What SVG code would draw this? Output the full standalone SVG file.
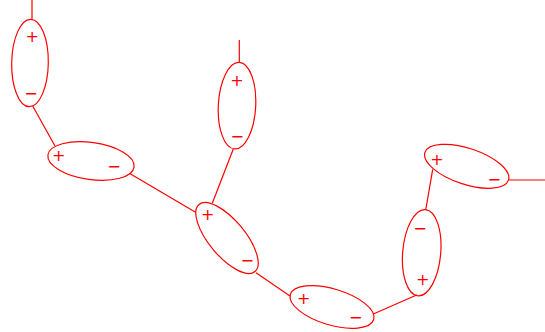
<svg xmlns="http://www.w3.org/2000/svg" width="545" height="332" viewBox="0 0 545 332">
<style>
.e{fill:none;stroke:#ff0000;stroke-width:1.2}
.c line{stroke:#ff0000;stroke-width:1.2}
.s{font-family:"DejaVu Sans",sans-serif;font-size:16px;fill:#ff0000;text-anchor:middle;dominant-baseline:central}
</style>
<rect width="545" height="332" fill="#ffffff"/>
<g id="connectors" class="c">
<line x1="32" y1="0" x2="32" y2="19.5"/>
<line x1="32.7" y1="106" x2="55" y2="146"/>
<line x1="129.3" y1="173.3" x2="196" y2="212.5"/>
<line x1="239.3" y1="40" x2="239.3" y2="62.3"/>
<line x1="233.3" y1="149" x2="212.3" y2="203.3"/>
<line x1="256" y1="272.7" x2="290" y2="296"/>
<line x1="373.3" y1="314" x2="416.7" y2="295"/>
<line x1="425.7" y1="210" x2="432.7" y2="169.3"/>
<line x1="509" y1="180" x2="545" y2="180"/>
</g>
<g id="d1">
<ellipse class="e" cx="30" cy="63" rx="18.3" ry="43.7" transform="rotate(1 30 63)"/>
<text class="s" x="32.3" y="36.7">+</text>
<text class="s" x="31" y="93.7">−</text>
</g>
<g id="d2">
<ellipse class="e" cx="91" cy="161" rx="43.5" ry="18.5" transform="rotate(8 91 161)"/>
<text class="s" x="58.7" y="155.7">+</text>
<text class="s" x="114" y="166">−</text>
</g>
<g id="d3">
<ellipse class="e" cx="237" cy="105.7" rx="18.7" ry="43.3" transform="rotate(3 237 105.7)"/>
<text class="s" x="237" y="80.7">+</text>
<text class="s" x="237.3" y="136.7">−</text>
</g>
<g id="d4">
<ellipse class="e" cx="227" cy="238" rx="43.7" ry="18" transform="rotate(50.2 227 238)"/>
<text class="s" x="207.7" y="214">+</text>
<text class="s" x="247.3" y="260.3">−</text>
</g>
<g id="d5">
<ellipse class="e" cx="332" cy="307" rx="43.5" ry="18" transform="rotate(16.7 332 307)"/>
<text class="s" x="303.7" y="298.7">+</text>
<text class="s" x="355.7" y="317.7">−</text>
</g>
<g id="d6">
<ellipse class="e" cx="421.7" cy="252.7" rx="19" ry="43.3" transform="rotate(5 421.7 252.7)"/>
<text class="s" x="422.7" y="279.7">+</text>
<text class="s" x="420" y="228.3">−</text>
</g>
<g id="d7">
<ellipse class="e" cx="466.7" cy="166.3" rx="44" ry="18" transform="rotate(18.3 466.7 166.3)"/>
<text class="s" x="437" y="159">+</text>
<text class="s" x="494.3" y="179.3">−</text>
</g>
</svg>
